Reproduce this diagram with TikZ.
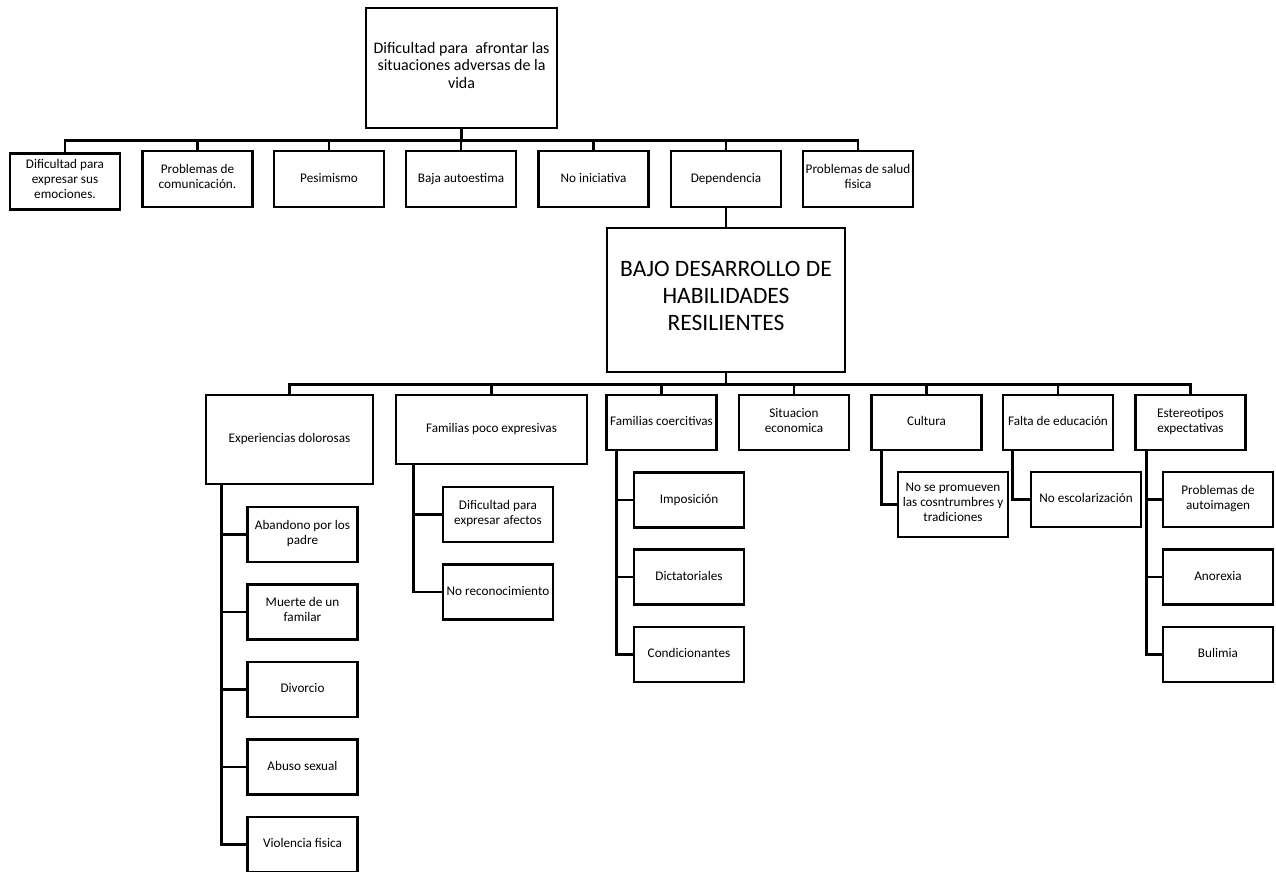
\documentclass[tikz,border=0pt]{standalone}
\usepackage{fontspec}
\setmainfont{Carlito}

\begin{document}
\begin{tikzpicture}[x=1pt, y=-1pt,
  box/.style={draw, line width=2.6pt, align=center, inner sep=0.5pt,
    minimum width=110pt, minimum height=56pt,
    font=\fontsize{13.2}{15}\selectfont,
    execute at begin node=\strut, execute at end node=\strut},
  sub/.style={box, minimum height=55pt},
  link/.style={line width=2.6pt}]
  \useasboundingbox (0,0) rectangle (1276,872);

  % effect
  \node[box, minimum width=191pt, minimum height=120pt,
    font=\fontsize{16}{17.5}\selectfont] (efecto) at (461.5,68)
    {Dificultad para\ \ afrontar las\\situaciones adversas de la\\vida};

  % effects row
  \foreach \n/\x/\y/\txt in {1/65/181.5/{Dificultad para\\expresar sus\\emociones.},
      2/197.5/179/{Problemas de\\comunicación.}, 3/329/179/Pesimismo,
      4/461/179/Baja autoestima, 5/593.5/179/No iniciativa,
      6/726/179/Dependencia, 7/858/179/{Problemas de salud\\fisica}} {
    \node[box] (ef\n) at (\x,\y) {\txt};
    \draw[link] (efecto.south) -- ++(0,11) -| (ef\n.north);
  }

  % problem
  \node[box, minimum width=238pt, minimum height=144pt,
    font=\fontsize{23.5}{27}\selectfont] (problema) at (726,300)
    {BAJO DESARROLLO DE\\HABILIDADES\\RESILIENTES};
  \draw[link] (ef6.south) -- (problema.north);

  % causes row
  \node[box, minimum width=167pt, minimum height=89pt] (exp) at (289.5,439.5) {Experiencias dolorosas};
  \node[box, minimum width=191pt, minimum height=69pt] (fpe) at (491.5,429.5) {Familias poco expresivas};
  \node[sub] (coer) at (661.5,422.5) {Familias coercitivas};
  \node[sub] (sit) at (794,422.5) {Situacion\\economica};
  \node[sub] (cul) at (926.5,422.5) {Cultura};
  \node[sub] (fal) at (1058,422.5) {Falta de educación};
  \node[sub] (est) at (1190.5,422.5) {Estereotipos\\expectativas};
  \foreach \c in {exp, fpe, coer, sit, cul, fal, est}
    \draw[link] (problema.south) -- ++(0,11) -| (\c.north);

  % sub causes
  \foreach \i/\y/\txt in {1/534.5/{Abandono por los\\padre}, 2/612/{Muerte de un\\familar},
      3/689.5/Divorcio, 4/767/Abuso sexual, 5/844.5/Violencia fisica} {
    \node[sub] (exp\i) at (302.5,\y) {\txt};
    \draw[link] (exp.south west) ++(17,0) |- (exp\i.west);
  }
  \foreach \i/\y/\txt in {1/514.5/{Dificultad para\\expresar afectos}, 2/592/No reconocimiento} {
    \node[sub] (fpe\i) at (498,\y) {\txt};
    \draw[link] (fpe.south west) ++(19,0) |- (fpe\i.west);
  }
  \foreach \i/\y/\txt in {1/500/Imposición, 2/577/Dictatoriales, 3/654.5/Condicionantes} {
    \node[sub] (coer\i) at (689,\y) {\txt};
    \draw[link] (coer.south west) ++(11,0) |- (coer\i.west);
  }
  \node[sub, minimum height=65pt] (cul1) at (953,504.5) {No se promueven\\las cosntrumbres y\\tradiciones};
  \draw[link] (cul.south west) ++(11,0) |- (cul1.west);
  \node[sub] (fal1) at (1086,499.5) {No escolarización};
  \draw[link] (fal.south west) ++(11,0) |- (fal1.west);
  \foreach \i/\y/\txt in {1/499.5/{Problemas de\\autoimagen}, 2/577/Anorexia, 3/654.5/Bulimia} {
    \node[sub] (est\i) at (1218,\y) {\txt};
    \draw[link] (est.south west) ++(12,0) |- (est\i.west);
  }
\end{tikzpicture}
\end{document}
